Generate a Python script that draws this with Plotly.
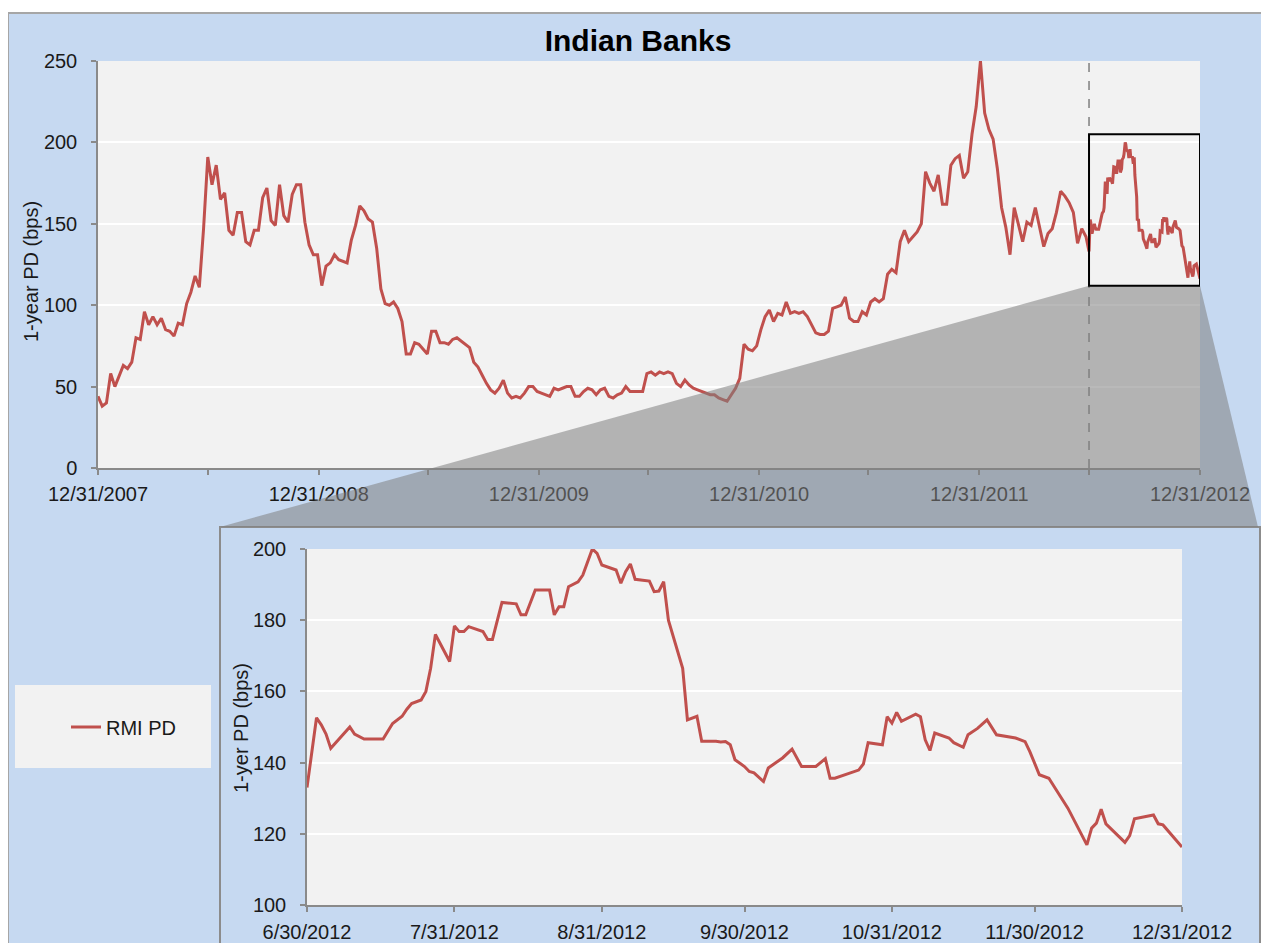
import plotly.graph_objects as go
import pandas as pd

# page body has an 8px margin, so the figure is sized to fill the rest of the window
PAGE_OFF = 8
W, H = 1269 - PAGE_OFF, 943 - PAGE_OFF
RED = '#C0504D'
BLUE = '#C6D9F1'
PLOT_BG = '#F2F2F2'
AXIS = '#8A8A8A'
TXT = '#1A1A1A'
FONT = 'Arial, Liberation Sans, sans-serif'

# 1-year PD (bps), weekly readings from 12/31/2007 to 6/25/2012
weeklyStart = '2007-12-31'
weeklyValues = [
  44, 38, 40, 58, 50, 56, 63, 61, 65, 80, 79, 96, 88, 93, 88, 92, 85, 84, 81, 89,
  88, 101, 108, 118, 111, 147, 191, 174, 186, 165, 169, 146, 143, 157, 157, 139, 137, 146, 146, 166,
  172, 152, 149, 174, 155, 151, 168, 174, 174, 151, 137, 131, 131, 112, 124, 126, 131, 128, 127, 126,
  140, 149, 161, 158, 153, 151, 135, 110, 101, 100, 102, 98, 90, 70, 70, 77, 76, 73, 70, 84,
  84, 77, 77, 76, 79, 80, 78, 76, 74, 65, 62, 57, 52, 48, 46, 49, 54, 46, 43, 44,
  43, 46, 50, 50, 47, 46, 45, 44, 49, 48, 49, 50, 50, 44, 44, 47, 49, 48, 45, 48,
  49, 44, 43, 45, 46, 50, 47, 47, 47, 47, 58, 59, 57, 59, 58, 59, 58, 52, 50, 54,
  51, 49, 48, 47, 46, 45, 45, 43, 42, 41, 45, 49, 55, 76, 73, 72, 75, 85, 93, 97,
  90, 95, 94, 102, 95, 96, 95, 96, 93, 88, 83, 82, 82, 84, 98, 99, 100, 105, 92, 90,
  90, 96, 94, 102, 104, 102, 104, 119, 122, 120, 139, 146, 139, 142, 145, 150, 182, 175, 170, 180,
  162, 162, 186, 190, 192, 178, 182, 205, 222, 250, 218, 208, 202, 184, 160, 148, 131, 160, 150, 139,
  151, 149, 160, 147, 136, 144, 147, 157, 170, 167, 163, 157, 138, 147, 142,
]

# zoomed half year, 6/30/2012 to 12/31/2012
zoomDates = [
  '2012-06-30', '2012-07-02', '2012-07-03', '2012-07-04', '2012-07-05', '2012-07-07', '2012-07-09',
  '2012-07-10', '2012-07-12', '2012-07-16', '2012-07-18', '2012-07-20', '2012-07-21', '2012-07-22',
  '2012-07-24', '2012-07-25', '2012-07-26', '2012-07-27', '2012-07-30', '2012-07-31', '2012-08-01',
  '2012-08-02', '2012-08-03', '2012-08-06', '2012-08-07', '2012-08-08', '2012-08-10', '2012-08-13',
  '2012-08-14', '2012-08-15', '2012-08-17', '2012-08-20', '2012-08-21', '2012-08-22', '2012-08-23',
  '2012-08-24', '2012-08-26', '2012-08-27', '2012-08-29', '2012-08-30', '2012-08-31', '2012-09-03',
  '2012-09-04', '2012-09-05', '2012-09-06', '2012-09-07', '2012-09-10', '2012-09-11', '2012-09-12',
  '2012-09-13', '2012-09-14', '2012-09-17', '2012-09-18', '2012-09-20', '2012-09-21', '2012-09-24',
  '2012-09-25', '2012-09-26', '2012-09-27', '2012-09-28', '2012-09-30', '2012-10-01', '2012-10-02',
  '2012-10-04', '2012-10-05', '2012-10-08', '2012-10-10', '2012-10-12', '2012-10-15', '2012-10-17',
  '2012-10-18', '2012-10-19', '2012-10-24', '2012-10-25', '2012-10-26', '2012-10-29', '2012-10-30',
  '2012-10-31', '2012-11-01', '2012-11-02', '2012-11-05', '2012-11-06', '2012-11-07', '2012-11-08',
  '2012-11-09', '2012-11-12', '2012-11-13', '2012-11-15', '2012-11-16', '2012-11-18', '2012-11-20',
  '2012-11-22', '2012-11-26', '2012-11-28', '2012-11-29', '2012-12-01', '2012-12-03', '2012-12-05',
  '2012-12-07', '2012-12-11', '2012-12-12', '2012-12-13', '2012-12-14', '2012-12-15', '2012-12-17',
  '2012-12-19', '2012-12-20', '2012-12-21', '2012-12-25', '2012-12-26', '2012-12-27', '2012-12-31',
]
zoomValues = [
  133, 152.6, 150.6, 148, 144, 147, 150,
  148, 146.6, 146.6, 151, 153, 155, 156.6,
  157.6, 160, 166.5, 176, 168.4, 178.4, 176.8,
  176.8, 178.2, 176.8, 174.6, 174.6, 185, 184.6,
  181.5, 181.5, 188.5, 188.5, 181.5, 183.8, 183.8,
  189.4, 190.8, 192.7, 200, 198.8, 195.5, 194.1,
  190.4, 193.6, 195.8, 191.5, 191, 188, 188.2,
  190.8, 180, 166.5, 152, 153, 146, 146,
  145.8, 145.9, 145, 140.8, 138.9, 137.5, 137.1,
  134.7, 138.5, 141.3, 143.8, 138.9, 138.9, 141.1,
  135.6, 135.6, 137.9, 139.6, 145.6, 145, 152.9,
  151.1, 154.1, 151.6, 153.6, 152.9, 146.4, 143.4,
  148.3, 146.9, 145.6, 144.3, 147.8, 149.6, 152,
  147.8, 146.9, 145.9, 143.1, 136.6, 135.6, 131.4,
  127.2, 116.9, 121.6, 123, 126.9, 122.8, 120.2,
  117.6, 119.5, 124.2, 125.3, 122.8, 122.5, 116.3,
]

topTickVals = ['2007-12-31', '2008-06-30', '2008-12-31', '2009-06-30', '2009-12-31', '2010-06-30',
               '2010-12-31', '2011-06-30', '2011-12-31', '2012-06-30', '2012-12-31']
topTickText = ['12/31/2007', '', '12/31/2008', '', '12/31/2009', '', '12/31/2010', '',
               '12/31/2011', '', '12/31/2012']
zoomTickVals = ['2012-06-30', '2012-07-31', '2012-08-31', '2012-09-30', '2012-10-31', '2012-11-30', '2012-12-31']
zoomTickText = ['6/30/2012', '7/31/2012', '8/31/2012', '9/30/2012', '10/31/2012', '11/30/2012', '12/31/2012']

weeklyDates = pd.date_range(weeklyStart, periods=len(weeklyValues), freq='7D')
allDates = list(weeklyDates) + list(pd.to_datetime(zoomDates))
allValues = weeklyValues + zoomValues

# window pixel -> paper coords
def px(x):
  return (x - PAGE_OFF) / W

def py(y):
  return 1 - (y - PAGE_OFF) / H

topDomX = [px(98), px(1200)]
topDomY = [py(468), py(61)]
zoomDomX = [px(307), px(1182)]
zoomDomY = [py(905), py(549)]

boxLo, boxHi = 112, 205

fig = go.Figure()

fig.add_trace(go.Scatter(
  x=allDates, y=allValues, mode='lines', name='RMI PD',
  line=dict(color=RED, width=3), xaxis='x', yaxis='y', showlegend=True
))
fig.add_trace(go.Scatter(
  x=zoomDates, y=zoomValues, mode='lines', name='RMI PD',
  line=dict(color=RED, width=3), xaxis='x2', yaxis='y2', showlegend=False
))

# funnel from the box to the inset frame
t0 = pd.Timestamp(topTickVals[0])
t1 = pd.Timestamp(topTickVals[-1])
def topFracX(d):
  f = (pd.Timestamp(d) - t0) / (t1 - t0)
  return topDomX[0] + f * (topDomX[1] - topDomX[0])

def topFracY(v):
  return topDomY[0] + v / 250 * (topDomY[1] - topDomY[0])

fx0 = topFracX(zoomTickVals[0])
fx1 = topFracX(zoomTickVals[-1])
fy = topFracY(boxLo)
funnel = f'M {fx0} {fy} L {fx1} {fy} L {px(1258)} {py(527)} L {px(220)} {py(527)} Z'

shapes = [
  # white strip above the frame + frame border
  dict(type='rect', xref='paper', yref='paper', x0=-0.01, x1=1.01, y0=py(13), y1=1.01,
       fillcolor='white', line=dict(width=0), layer='below'),
  dict(type='line', xref='paper', yref='paper', x0=px(8), x1=px(8), y0=-0.01, y1=py(13),
       line=dict(color='#A6A6A6', width=2), layer='below'),
  dict(type='line', xref='paper', yref='paper', x0=px(8), x1=1.01, y0=py(13), y1=py(13),
       line=dict(color='#A6A6A6', width=2), layer='below'),
  # inset frame
  dict(type='rect', xref='paper', yref='paper', x0=px(220), x1=px(1260), y0=-0.02, y1=py(527),
       line=dict(color='#8C8C8C', width=2), layer='below'),
  # legend box
  dict(type='rect', xref='paper', yref='paper', x0=px(15), x1=px(211), y0=py(768), y1=py(685),
       fillcolor=PLOT_BG, line=dict(width=0), layer='below'),
  # dashed divider
  dict(type='line', xref='x', yref='y', x0=zoomTickVals[0], x1=zoomTickVals[0], y0=0, y1=250,
       line=dict(color='#7F7F7F', width=1.5, dash='dash'), layer='above'),
  dict(type='path', xref='paper', yref='paper', path=funnel,
       fillcolor='rgba(128,128,128,0.55)', line=dict(width=0), layer='above'),
  dict(type='rect', xref='x', yref='y', x0=zoomTickVals[0], x1=zoomTickVals[-1], y0=boxLo, y1=boxHi,
       line=dict(color='black', width=2), layer='above'),
]

tickFont = dict(family=FONT, size=20, color=TXT)
axisCommon = dict(
  showline=True, linecolor=AXIS, linewidth=1.5, ticks='outside', ticklen=5,
  tickcolor=AXIS, tickwidth=1.5, tickfont=tickFont, zeroline=False, automargin=False
)

fig.update_layout(
  width=W, height=H,
  margin=dict(l=0, r=0, t=0, b=0, autoexpand=False),
  paper_bgcolor=BLUE,
  plot_bgcolor=PLOT_BG,
  font=dict(family=FONT, color=TXT),
  title=dict(text='<b>Indian Banks</b>', x=px(638), y=py(40), xanchor='center', yanchor='middle',
             font=dict(family=FONT, size=30, color='black')),
  xaxis=dict(
    domain=topDomX, anchor='y', type='date',
    range=[topTickVals[0], topTickVals[-1]],
    tickmode='array', tickvals=topTickVals, ticktext=topTickText,
    showgrid=False, ticklabelstandoff=2, **axisCommon
  ),
  yaxis=dict(
    domain=topDomY, anchor='x', range=[0, 250], tickmode='array',
    tickvals=[0, 50, 100, 150, 200, 250],
    showgrid=True, gridcolor='white', gridwidth=2, ticklabelstandoff=10, **axisCommon
  ),
  xaxis2=dict(
    domain=zoomDomX, anchor='y2', type='date',
    range=[zoomTickVals[0], zoomTickVals[-1]],
    tickmode='array', tickvals=zoomTickVals, ticktext=zoomTickText,
    showgrid=False, ticklabelstandoff=3, **axisCommon
  ),
  yaxis2=dict(
    domain=zoomDomY, anchor='x2', range=[100, 200], tickmode='array',
    tickvals=[100, 120, 140, 160, 180, 200],
    showgrid=True, gridcolor='white', gridwidth=2, ticklabelstandoff=10, **axisCommon
  ),
  shapes=shapes,
  showlegend=True,
  legend=dict(
    x=px(66), y=py(727), xanchor='left', yanchor='middle',
    bgcolor='rgba(0,0,0,0)', font=dict(family=FONT, size=20, color=TXT)
  ),
  annotations=[
    dict(text='1-year PD (bps)', xref='paper', yref='paper', x=px(31), y=py(272),
         textangle=-90, showarrow=False, font=dict(family=FONT, size=20, color=TXT),
         xanchor='center', yanchor='middle'),
    dict(text='1-yer PD (bps)', xref='paper', yref='paper', x=px(241), y=py(728),
         textangle=-90, showarrow=False, font=dict(family=FONT, size=20, color=TXT),
         xanchor='center', yanchor='middle'),
  ]
)

fig.write_html('out.html')
